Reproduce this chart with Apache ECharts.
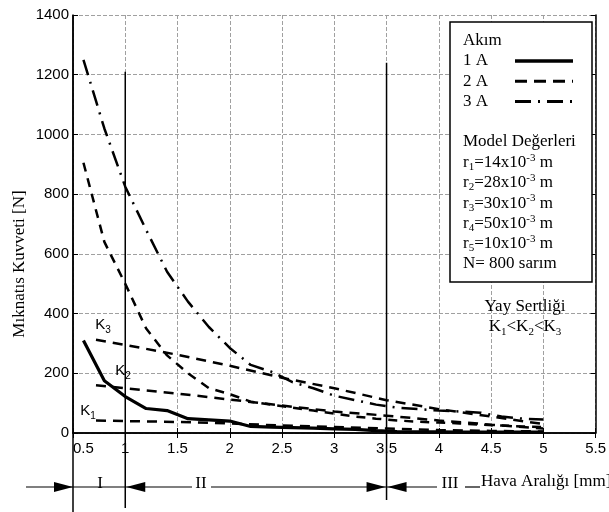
<!DOCTYPE html>
<html>
<head>
<meta charset="utf-8">
<script src="https://cdn.jsdelivr.net/npm/echarts@6/dist/echarts.min.js"></script>
<style>
html, body { margin: 0; padding: 0; background: #fff; }
#main { width: 609px; height: 512px; }
</style>
</head>
<body>
<div id="main"></div>
<script>
// hava aralığı [mm]
const gapX = [0.6, 0.8, 1, 1.2, 1.4, 1.6, 1.8, 2, 2.2, 2.4, 2.6, 2.8, 3, 3.2, 3.4, 3.6, 3.8, 4, 4.2, 4.4, 4.6, 4.8, 5];
// mıknatıs kuvveti [N]
const akim1 = [310, 175, 122, 82, 75, 48, 44, 40, 22, 20, 18, 16, 14, 12, 8, 5, 4, 4, 3, 3, 3, 3, 3];
const akim2 = [905, 640, 500, 350, 260, 200, 150, 130, 105, 95, 85, 75, 65, 55, 48, 42, 38, 35, 32, 28, 25, 22, 20];
const akim3 = [1250, 1020, 825, 680, 540, 440, 355, 285, 228, 205, 170, 150, 125, 110, 95, 85, 80, 75, 72, 68, 55, 48, 45];

// yay doğruları
const yayX = [0.72, 1, 1.5, 2, 2.5, 3, 3.5, 4, 4.5, 5];
const yayK1 = [42, 40, 37, 32, 25, 20, 15, 10, 7, 5];
const yayK2 = [160, 150, 132, 112, 92, 72, 58, 42, 28, 15];
const yayK3 = [312, 295, 262, 225, 185, 150, 110, 80, 55, 30];

const xTicks = ['0.5', '1', '1.5', '2', '2.5', '3', '3.5', '4', '4.5', '5', '5.5'];
const yTicks = [0, 200, 400, 600, 800, 1000, 1200, 1400];

// bölge sınırları
const bolgeX = [0.5, 1, 3.5];
const bolgeTop = [1400, 1210, 1240];

const serif = '"Liberation Serif", "Times New Roman", serif';
const sans = '"Liberation Sans", Arial, sans-serif';

function pairs(xs, ys) {
    return xs.map((x, i) => [x, ys[i]]);
}

const chart = echarts.init(document.getElementById('main'));

function lineSeries(name, data, width, dash) {
    return {
        name: name,
        type: 'line',
        data: data,
        symbol: 'none',
        smooth: false,
        z: 5,
        lineStyle: { color: '#000', width: width, type: dash }
    };
}

const axisCommon = {
    type: 'value',
    axisLine: { show: true, lineStyle: { color: '#000', width: 1.5 } },
    axisTick: { show: true, inside: true, length: 5, lineStyle: { color: '#000' } },
    splitLine: { show: false }
};

const option = {
    animation: false,
    backgroundColor: '#fff',
    grid: { left: 73, right: 13, top: 15, bottom: 79 },
    xAxis: [
        Object.assign({}, axisCommon, {
            min: 0.5, max: 5.5, interval: 0.5,
            axisLabel: {
                margin: 8, color: '#000', fontFamily: sans, fontSize: 15,
                alignMinLabel: 'left',
                formatter: (v) => xTicks[Math.round((v - 0.5) / 0.5)]
            },
            splitLine: { show: true, lineStyle: { color: '#a0a0a0', type: [4, 2], width: 1 } }
        }),
        Object.assign({}, axisCommon, {
            position: 'top', min: 0.5, max: 5.5, interval: 0.5,
            axisLabel: { show: false }
        })
    ],
    yAxis: [
        Object.assign({}, axisCommon, {
            min: 0, max: 1400, interval: 200,
            axisLabel: {
                margin: 4, color: '#000', fontFamily: sans, fontSize: 15,
                formatter: (v) => yTicks.indexOf(v) >= 0 ? String(v) : ''
            },
            splitLine: { show: true, lineStyle: { color: '#a0a0a0', type: [4, 2], width: 1 } }
        }),
        Object.assign({}, axisCommon, {
            position: 'right', min: 0, max: 1400, interval: 200,
            axisLabel: { show: false }
        })
    ],
    series: [
        lineSeries('1 A', pairs(gapX, akim1), 3.2, 'solid'),
        lineSeries('2 A', pairs(gapX, akim2), 2.5, [9, 7]),
        lineSeries('3 A', pairs(gapX, akim3), 2.5, [16, 7, 2, 7]),
        lineSeries('K1', pairs(yayX, yayK1), 2.5, [10, 7]),
        lineSeries('K2', pairs(yayX, yayK2), 2.5, [10, 7]),
        lineSeries('K3', pairs(yayX, yayK3), 2.5, [10, 7])
    ]
};

chart.setOption(option);

// ek çizimler: bölgeler, etiketler, açıklama kutusu
const px = (x, y) => chart.convertToPixel({ xAxisIndex: 0, yAxisIndex: 0 }, [x, y]);
const g = [];

const arrowY = 487;
const lowEnd = [512, 508, 500];

bolgeX.forEach((x, i) => {
    const top = px(x, bolgeTop[i]);
    g.push({
        type: 'line', z: 10,
        shape: { x1: top[0], y1: top[1], x2: top[0], y2: lowEnd[i] },
        style: { stroke: '#000', lineWidth: 1.5 }
    });
});

const xa = px(0.5, 0)[0];
const xb = px(1, 0)[0];
const xc = px(3.5, 0)[0];

function hline(x1, x2) {
    g.push({ type: 'line', z: 10, shape: { x1: x1, y1: arrowY, x2: x2, y2: arrowY }, style: { stroke: '#000', lineWidth: 1.2 } });
}
function arrow(tip, dir) {
    // dir: 1 sağa, -1 sola
    g.push({
        type: 'polygon', z: 10,
        shape: { points: [[tip, arrowY], [tip - dir * 19, arrowY - 5], [tip - dir * 19, arrowY + 5]] },
        style: { fill: '#000' }
    });
}
function txt(x, y, s, size, align, font, z) {
    g.push({
        type: 'text', z: z || 11, x: x, y: y,
        style: { text: s, fill: '#000', font: size + 'px ' + (font || serif), align: align || 'left', verticalAlign: 'middle' }
    });
}

// eksen adı
g.push({
    type: 'text', z: 11, x: 20, y: 264, rotation: Math.PI / 2,
    style: { text: 'Mıknatıs Kuvveti [N]', fill: '#000', font: '17px ' + serif, align: 'center', verticalAlign: 'middle' }
});

hline(26, xa); arrow(xa, 1);
hline(xa, xb); arrow(xb + 1, -1);
hline(xb, 192); hline(211, xc); arrow(xc - 1, 1);
arrow(xc + 1, -1); hline(xc, 437);
txt(100, arrowY - 3, 'I', 17, 'center');
txt(201, arrowY - 3, 'II', 17, 'center');
txt(450, arrowY - 3, 'III', 17, 'center');
hline(465, 480);
txt(481, arrowY - 5, 'Hava Aralığı [mm]', 17, 'left');

// yay etiketleri
const kRich = {
    k: { fontFamily: sans, fontSize: 15, color: '#000', lineHeight: 20, verticalAlign: 'middle' },
    s: { fontFamily: sans, fontSize: 10, color: '#000', lineHeight: 20, verticalAlign: 'bottom' }
};
[['K', '3', 103, 325], ['K', '2', 123, 371], ['K', '1', 88, 411]].forEach((k) => {
    g.push({
        type: 'text', z: 11, x: k[2], y: k[3],
        style: { text: '{k|' + k[0] + '}{s|' + k[1] + '}', rich: kRich, align: 'center', verticalAlign: 'middle' }
    });
});

const rRich = {
    n: { fontFamily: serif, fontSize: 17, color: '#000', lineHeight: 20.3, verticalAlign: 'middle' },
    b: { fontFamily: serif, fontSize: 11, color: '#000', lineHeight: 20.3, verticalAlign: 'bottom' },
    t: { fontFamily: serif, fontSize: 11, color: '#000', lineHeight: 20.3, verticalAlign: 'top' }
};

txt(525, 307, 'Yay Sertliği', 17, 'center');
g.push({
    type: 'text', z: 11, x: 525, y: 327,
    style: { text: '{n|K}{b|1}{n|<K}{b|2}{n|<K}{b|3}', rich: rRich, align: 'center', verticalAlign: 'middle' }
});

// açıklama kutusu
g.push({
    type: 'rect', z: 12,
    shape: { x: 450, y: 22, width: 142, height: 260 },
    style: { fill: '#fff', stroke: '#000', lineWidth: 1.5 }
});
const legX = 463;
txt(legX, 41, 'Akım', 17, 'left', serif, 13);
const legDash = ['solid', [12, 7], [16, 7, 2, 7]];
const legW = [3.5, 3, 3];
['1 A', '2 A', '3 A'].forEach((s, i) => {
    const y = 61 + i * 20.3;
    txt(legX, y, s, 17, 'left', serif, 13);
    g.push({
        type: 'line', z: 13,
        shape: { x1: 515, y1: y, x2: 573, y2: y },
        style: { stroke: '#000', lineWidth: legW[i], lineDash: legDash[i] === 'solid' ? null : legDash[i] }
    });
});
txt(legX, 142, 'Model Değerleri', 17, 'left', serif, 13);
const rDeger = [['1', '14'], ['2', '28'], ['3', '30'], ['4', '50'], ['5', '10']];
rDeger.forEach((r, i) => {
    g.push({
        type: 'text', z: 13, x: legX, y: 162.5 + i * 20.3,
        style: {
            text: '{n|r}{b|' + r[0] + '}{n|=' + r[1] + 'x10}{t|-3}{n| m}',
            rich: rRich, align: 'left', verticalAlign: 'middle'
        }
    });
});
txt(legX, 264, 'N= 800 sarım', 17, 'left', serif, 13);

chart.setOption({ graphic: g });
</script>
</body>
</html>
